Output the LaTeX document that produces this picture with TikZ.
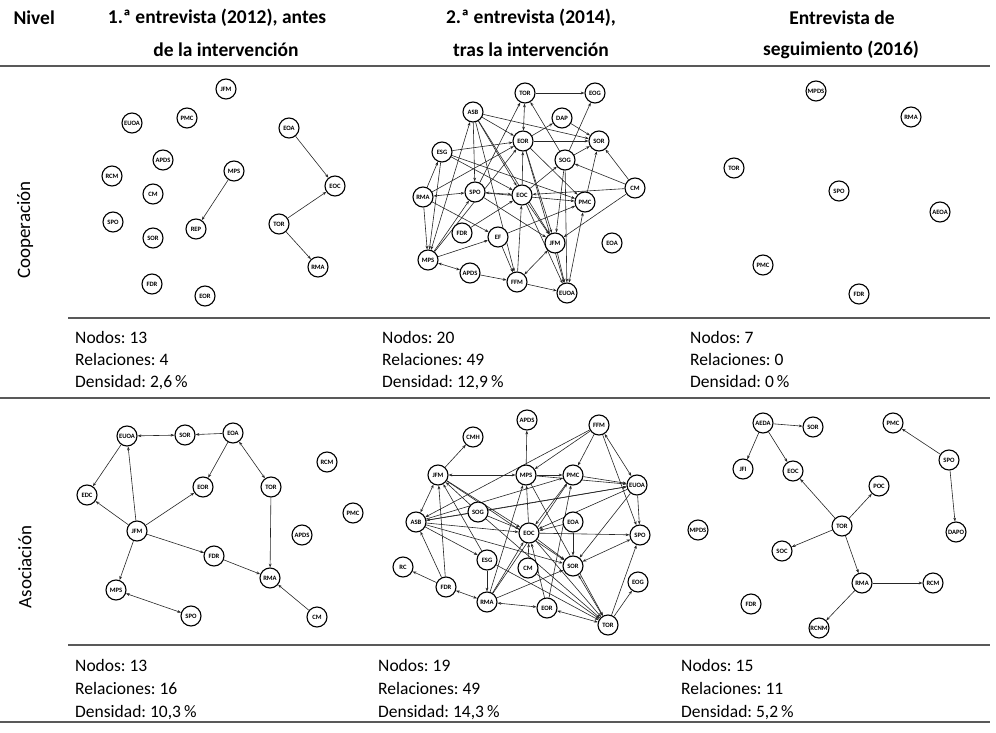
\documentclass[tikz,border=0pt]{standalone}
\usepackage{fontspec}
\setmainfont{Carlito}
\usetikzlibrary{arrows.meta,backgrounds}
\frenchspacing
\begin{document}
\begin{tikzpicture}[x=1pt,y=-1pt,
 nd/.style={circle,draw=black,line width=1.1pt,minimum size=20pt,inner sep=0pt,fill=white,font=\fontsize{6.6}{7}\selectfont\bfseries},
 ed/.style={draw=black!85,line width=0.6pt,-{Stealth[length=3.8pt,width=2.8pt]}},
 eb/.style={draw=black!85,line width=0.6pt,{Stealth[length=3.8pt,width=2.8pt]}-{Stealth[length=3.8pt,width=2.8pt]}},
 bigrule/.style={draw=black!65,line width=1.6pt},
 rowrule/.style={draw=black!65,line width=1.2pt},
 hd/.style={font=\fontsize{19.5}{22}\selectfont\bfseries,align=center},
 st/.style={font=\fontsize{17.5}{20}\selectfont,anchor=base west,inner sep=0pt},
 rl/.style={font=\fontsize{19}{20}\selectfont,rotate=90}]
\path[use as bounding box] (0,0) rectangle (996,733);

% header
\node[hd,anchor=west] (hN) at (10,18) {Nivel};
\node[hd] (h1a) at (217,18) {1.ª entrevista (2012), antes};
\node[hd] (h1b) at (226,50) {de la intervención};
\node[hd] (h2a) at (531,18) {2.ª entrevista (2014),};
\node[hd] (h2b) at (531,50) {tras la intervención};
\node[hd] (h3a) at (842,18) {Entrevista de};
\node[hd] (h3b) at (841,50) {seguimiento (2016)};

% rules
\draw[bigrule] (0,66) -- (990,66);
\draw[rowrule] (68,318) -- (990,318);
\draw[bigrule] (0,398) -- (990,398);
\draw[rowrule] (68,645) -- (990,645);
\draw[bigrule] (0,722) -- (990,722);

% row labels
\node[rl] (r1) at (25,230) {Cooperación};
\node[rl] (r2) at (25,567) {Asociación};

% stats
\node[st] (s11) at (75,343) {Nodos: 13};
\node[st] (s12) at (75,365) {Relaciones: 4};
\node[st] (s13) at (75,387) {Densidad: 2,6\,\%};
\node[st] (s21) at (382,343) {Nodos: 20};
\node[st] (s22) at (382,365) {Relaciones: 49};
\node[st] (s23) at (382,387) {Densidad: 12,9\,\%};
\node[st] (s31) at (690,343) {Nodos: 7};
\node[st] (s32) at (690,365) {Relaciones: 0};
\node[st] (s33) at (690,387) {Densidad: 0\,\%};
\node[st] (t11) at (75,671) {Nodos: 13};
\node[st] (t12) at (75,694) {Relaciones: 16};
\node[st] (t13) at (75,717) {Densidad: 10,3\,\%};
\node[st] (t21) at (378,671) {Nodos: 19};
\node[st] (t22) at (378,694) {Relaciones: 49};
\node[st] (t23) at (378,717) {Densidad: 14,3\,\%};
\node[st] (t31) at (681,671) {Nodos: 15};
\node[st] (t32) at (681,694) {Relaciones: 11};
\node[st] (t33) at (681,717) {Densidad: 5,2\,\%};

% ---- panel A
\foreach \n/\x/\y in {JFM/226/89,EUOA/132/123,PMC/187/118,APDS/163/160,RCM/112/176,CM/153/194,SPO/113/222,SOR/153/238,FDR/152/284,EOR/205/296,MPS/234/171,REP/196/229,EOA/289/128,EOC/335/186,TOR/279/224,RMA/318/267}
  \node[nd] (a\n) at (\x,\y) {\n};
\begin{pgfonlayer}{background}
\foreach \s/\t in {EOA/EOC,MPS/REP,TOR/EOC,TOR/RMA}
  \draw[ed] (a\s) -- (a\t);
\end{pgfonlayer}

% ---- panel B
\foreach \n/\x/\y in {TOR/525/93,EOG/595/93,ASB/473/112,DAP/562/118,EOR/523/141,SOR/599/141,ESG/442/152,SOG/565/160,CM/635/188,RMA/423/197,SPO/475/192,EOC/522/195,PMC/585/202,FDR/462/233,EF/498/237,JFM/555/243,EOA/612/243,MPS/428/260,APDS/470/273,FFM/517/282,EUOA/567/293}
  \node[nd] (b\n) at (\x,\y) {\n};
\begin{pgfonlayer}{background}
\foreach \s/\t in {TOR/EOG,DAP/SOR,SOG/TOR,EOR/DAP,ASB/SOR,ASB/EOR,EOR/SOR,ESG/EOR,SOG/SOR,SOG/EOG,CM/SOR,CM/SOG,CM/EOC,CM/JFM,PMC/SOR,EOR/PMC,RMA/ESG,RMA/MPS,RMA/EF,RMA/EOR,ASB/SPO,ASB/EOC,ASB/JFM,ASB/FFM,ESG/EOC,SPO/TOR,MPS/SPO,SPO/JFM,EOC/EOR,EOC/JFM,EOC/SOG,FFM/EOC,EOC/EUOA,EF/FFM,EF/PMC,MPS/EF,APDS/FFM,FFM/EUOA,JFM/EUOA,EOR/JFM,EOR/EUOA,SOG/JFM,SOG/EUOA,ESG/MPS,MPS/EOR,SPO/PMC,ESG/PMC,FDR/EOC}
  \draw[ed] (b\s) -- (b\t);
\foreach \s/\t in {EOR/TOR,PMC/EUOA,RMA/SPO,ASB/MPS,SPO/EOC,MPS/APDS,FFM/JFM}
  \draw[eb] (b\s) -- (b\t);
\end{pgfonlayer}

% ---- panel C
\foreach \n/\x/\y in {MPDS/816/91,RMA/911/117,TOR/734/168,SPO/839/191,AEOA/940/212,PMC/763/265,FDR/859/294}
  \node[nd] (c\n) at (\x,\y) {\n};

% ---- panel D
\foreach \n/\x/\y in {EUOA/127/436,SOR/185/435,EOA/233/433,RCM/327/462,EDC/87/495,EOR/203/487,TOR/271/487,PMC/353/513,APDS/302/535,JFM/137/531,FDR/214/556,RMA/270/578,MPS/116/590,SPO/191/616,CM/317/617}
  \node[nd] (d\n) at (\x,\y) {\n};
\begin{pgfonlayer}{background}
\foreach \s/\t in {EOA/SOR,EOA/EOR,EUOA/EDC,JFM/EUOA,JFM/EDC,JFM/EOR,JFM/FDR,JFM/MPS,FDR/RMA,TOR/RMA,CM/RMA}
  \draw[ed] (d\s) -- (d\t);
\foreach \s/\t in {EUOA/SOR,EOA/TOR,MPS/SPO}
  \draw[eb] (d\s) -- (d\t);
\end{pgfonlayer}

% ---- panel E
\foreach \n/\x/\y in {APDS/527/420,FFM/599/425,CMH/473/437,JFM/438/475,MPS/526/475,PMC/573/475,EUOA/637/485,SOG/478/512,EOA/573/522,ASB/416/522,EOC/529/533,SPO/640/535,ESG/487/560,CM/528/568,SOR/573/566,RC/403/567,EOG/638/582,FDR/446/587,RMA/487/602,EOR/547/608,TOR/608/625}
  \node[nd] (e\n) at (\x,\y) {\n};
\begin{pgfonlayer}{background}
\foreach \s/\t in {JFM/CMH,MPS/APDS,MPS/PMC,FFM/MPS,FFM/ASB,FFM/PMC,FFM/SPO,PMC/EUOA,MPS/EUOA,ASB/EUOA,ASB/PMC,ASB/EOC,ASB/ESG,ASB/SOR,SOG/JFM,SOG/EOC,SOG/ASB,SOG/EUOA,SOG/TOR,ESG/JFM,ESG/RMA,ESG/TOR,JFM/EOC,JFM/SOR,FDR/ASB,FDR/JFM,FDR/RC,RMA/EOC,RMA/MPS,RMA/SOR,RMA/PMC,CM/EOC,CM/TOR,EOC/SPO,EOC/SOR,EOC/TOR,EUOA/EOC,EOC/MPS,EOA/EOC,EOA/SOR,EUOA/SPO,EUOA/SOR,TOR/SPO,TOR/EOG,EOR/PMC,EOR/EOC,PMC/EOC,MPS/TOR}
  \draw[ed] (e\s) -- (e\t);
\foreach \s/\t in {MPS/JFM,FFM/EUOA,ASB/JFM,FDR/RMA,RMA/EOR,SOR/SPO,SOR/TOR,TOR/EOR}
  \draw[eb] (e\s) -- (e\t);
\end{pgfonlayer}

% ---- panel F
\foreach \n/\x/\y in {AEDA/763/423,SOR/813/427,PMC/893/423,JFI/743/469,EOC/793/471,SPO/949/460,POC/879/486,MPDS/698/530,TOR/842/526,DAPO/956/532,SOC/782/551,RMA/862/583,RCM/933/583,FDR/751/604,RCNM/819/628}
  \node[nd] (f\n) at (\x,\y) {\n};
\begin{pgfonlayer}{background}
\foreach \s/\t in {AEDA/SOR,AEDA/JFI,AEDA/EOC,SPO/PMC,SPO/DAPO,TOR/EOC,TOR/POC,TOR/SOC,TOR/RMA,RMA/RCM,RMA/RCNM}
  \draw[ed] (f\s) -- (f\t);
\end{pgfonlayer}
\end{tikzpicture}
\end{document}
